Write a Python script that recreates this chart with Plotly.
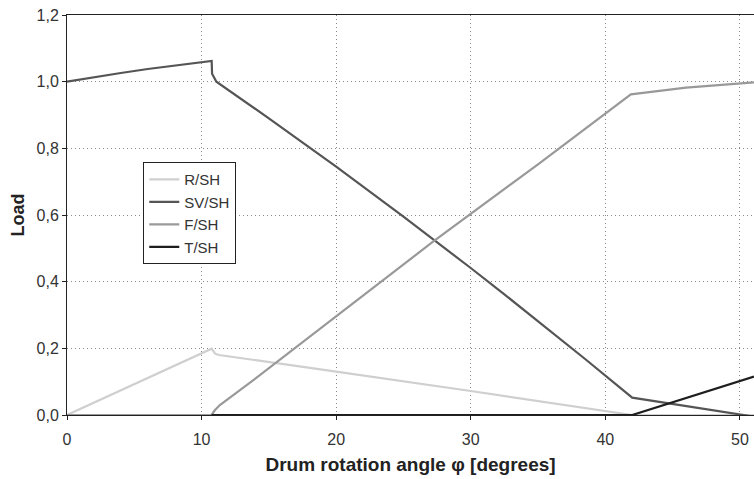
import plotly.graph_objects as go

# Data
r_x = [0, 10.75, 11.0, 11.3, 20, 30, 42.0, 51.05]
r_y = [0, 0.199, 0.184, 0.180, 0.13, 0.072, 0.0, 0.0]

sv_x = [0, 2, 4, 6, 8, 10, 10.75, 10.78, 11.1, 15, 20, 25, 27.2, 30, 32.5, 35, 38.5, 42.0, 50.6, 51.05]
sv_y = [1.0, 1.014, 1.026, 1.038, 1.048, 1.057, 1.062, 1.024, 1.0, 0.890, 0.745, 0.595, 0.528, 0.441, 0.362, 0.282, 0.168, 0.052, 0.0, -0.005]

f_x = [0, 10.74, 11.0, 11.36, 13.6, 20, 27.2, 35, 41.9, 46, 51.05]
f_y = [0, 0.0, 0.015, 0.03, 0.097, 0.296, 0.52, 0.752, 0.962, 0.982, 0.998]

t_x = [10.74, 42.0, 51.05]
t_y = [0.0, 0.0, 0.115]

names = ["R/SH", "SV/SH", "F/SH", "T/SH"]
colors = ["#cfcfcf", "#555555", "#999999", "#1e1e1e"]

fig = go.Figure()
for xs, ys, n, c in zip([r_x, sv_x, f_x, t_x], [r_y, sv_y, f_y, t_y], names, colors):
    fig.add_trace(go.Scatter(x=xs, y=ys, mode="lines", name=n,
                             line=dict(color=c, width=2.2)))

fig.update_layout(
    width=754, height=479,
    margin=dict(l=67, r=0, t=15, b=64),
    paper_bgcolor="white", plot_bgcolor="white",
    separators=", ",
    font=dict(family="Liberation Sans, Arial, sans-serif", size=16, color="#333"),
    showlegend=True,
    legend=dict(x=0.111, y=0.632, xanchor="left", yanchor="top",
                bgcolor="white", bordercolor="#222", borderwidth=1,
                font=dict(size=15, color="#333"), itemwidth=30,
                tracegroupgap=0),
)
fig.update_xaxes(range=[0, 51.05], dtick=10, tick0=0, automargin=False,
                 showgrid=True, gridcolor="#888", griddash="1px,3px", gridwidth=1,
                 showline=True, linecolor="#222", linewidth=1, mirror=True,
                 ticks="outside", ticklen=4, tickcolor="#222",
                 ticklabelstandoff=6,
                 zeroline=False,
                 title=dict(text="<b>Drum rotation angle φ [degrees]</b>",
                            font=dict(size=19, color="#222"), standoff=10))
fig.update_yaxes(range=[0, 1.2], dtick=0.2, tickformat=".1f", automargin=False,
                 showgrid=True, gridcolor="#888", griddash="1px,3px", gridwidth=1,
                 showline=True, linecolor="#222", linewidth=1,
                 ticks="outside", ticklen=4, tickcolor="#222",
                 zeroline=False,
                 title=dict(text="<b>Load</b>", font=dict(size=18, color="#222"),
                            standoff=7))

fig.write_html("out.html", config={"displayModeBar": False},
               post_script="document.body.style.margin='0px';document.body.style.overflow='hidden';")
